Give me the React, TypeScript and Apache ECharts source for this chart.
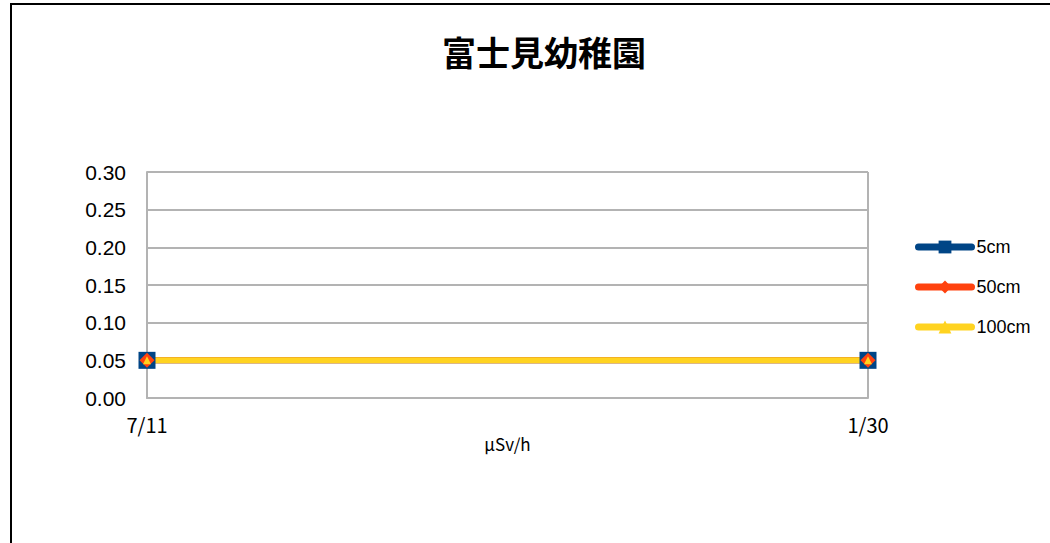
import React, { useEffect, useRef } from "react";
import * as echarts from "echarts";

const categories = ["7/11", "1/30"];
const seriesNames = ["5cm", "50cm", "100cm"];
const values5 = [0.05, 0.05];
const values50 = [0.05, 0.05];
const values100 = [0.05, 0.05];
const title = "富士見幼稚園";
const unit = "μSv/h";

const FONT = "'Noto Sans CJK JP', 'Noto Sans', sans-serif";
const LATIN = "'Liberation Sans', Arial, sans-serif";

export default function App() {
  const ref = useRef<HTMLDivElement>(null);
  useEffect(() => {
    if (!ref.current) return;
    const chart = echarts.init(ref.current, null, { renderer: "svg" });
    const mk = (name: string, data: number[], color: string, symbol: string, size: number) => ({
      name,
      type: "line",
      data,
      symbol,
      symbolSize: size,
      showAllSymbol: true,
      lineStyle: { color, width: 6 },
      itemStyle: { color },
      emphasis: { disabled: true },
    });
    chart.setOption({
      animation: false,
      backgroundColor: "#ffffff",
      title: {
        text: title,
        left: 539,
        top: 29,
        textAlign: "center",
        textStyle: { fontFamily: FONT, fontSize: 34, fontWeight: "bold", color: "#000" },
      },
      graphic: [
        {
          type: "rect",
          shape: { x: 11, y: 4, width: 1100, height: 600 },
          style: { fill: "none", stroke: "#000", lineWidth: 2 },
          silent: true,
          z: 100,
        },
      ],
      legend: {
        orient: "vertical",
        left: 915,
        top: 238,
        padding: 0,
        itemWidth: 53,
        itemHeight: 16,
        itemGap: 22,
        lineStyle: { width: 7, cap: "round" },
        textStyle: { fontFamily: LATIN, fontSize: 18, color: "#000" },
        data: seriesNames,
      },
      grid: { left: 147, right: 182, top: 172, bottom: 145 },
      xAxis: {
        type: "category",
        data: categories,
        boundaryGap: false,
        name: unit,
        nameLocation: "middle",
        nameGap: 29,
        nameTextStyle: { fontFamily: FONT, fontSize: 17, color: "#000" },
        axisLine: { lineStyle: { color: "#b3b3b3", width: 2 } },
        axisTick: { show: false },
        axisLabel: { fontFamily: FONT, fontSize: 20, color: "#000", margin: 16 },
        splitLine: { show: true, lineStyle: { color: "#b3b3b3", width: 2 } },
      },
      yAxis: {
        type: "value",
        min: 0,
        max: 0.3,
        interval: 0.05,
        axisLine: { show: true, lineStyle: { color: "#b3b3b3", width: 2 } },
        axisTick: { show: false },
        axisLabel: {
          fontFamily: LATIN,
          fontSize: 21,
          color: "#000",
          margin: 21,
          formatter: (v: number) => v.toFixed(2),
        },
        splitLine: { show: true, lineStyle: { color: "#b3b3b3", width: 2 } },
      },
      series: [
        mk(seriesNames[0], values5, "#004586", "rect", 17),
        mk(seriesNames[1], values50, "#ff420e", "diamond", 15),
        mk(seriesNames[2], values100, "#ffd320", "triangle", 8),
      ],
    });
    return () => chart.dispose();
  }, []);
  return (
    <div
      ref={ref}
      style={{ position: "fixed", left: 0, top: 0, width: 1050, height: 543, background: "#fff" }}
    />
  );
}
